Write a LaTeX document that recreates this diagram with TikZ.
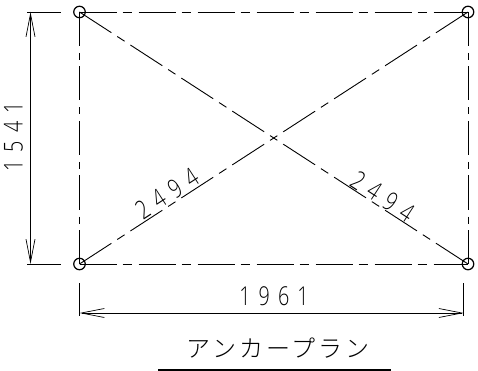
\documentclass[tikz,border=0pt]{standalone}
\usepackage{fontspec}
\usetikzlibrary{arrows.meta}
\newfontfamily\cadfont[FakeStretch=0.76,LetterSpace=31]{Open Sans Light}
\newfontfamily\cadjp[LetterSpace=12]{Noto Sans CJK JP Light}
\tikzset{
  anchorpt/.style={circle,draw=black,line width=1.2pt,minimum size=11.5pt,inner sep=0pt,fill=none},
  sideline/.style={line width=0.9pt,dash pattern=on 37pt off 6pt on 9pt off 7pt},
  endline/.style={line width=0.9pt,dash pattern=on 34pt off 7pt on 7pt off 6.5pt},
  diagline/.style={line width=0.9pt,dash pattern=on 38pt off 7pt on 8.7pt off 7pt},
  extline/.style={line width=0.8pt},
  dimline/.style={line width=0.8pt,{Straight Barb[length=23pt,width=9pt,line width=0.7pt]}-{Straight Barb[length=23pt,width=9pt,line width=0.7pt]}},
  dimtext/.style={font=\cadfont\fontsize{26}{26}\selectfont,text=black,inner sep=0pt},
  titletext/.style={font=\cadjp\fontsize{24}{24}\selectfont,text=black,inner sep=0pt},
}
\begin{document}
\begin{tikzpicture}[x=1pt,y=-1pt]
\useasboundingbox (0,0) rectangle (478,371);
\node[anchorpt] (TL) at (79.5,12) {};
\node[anchorpt] (TR) at (468,12) {};
\node[anchorpt] (BL) at (79.5,264) {};
\node[anchorpt] (BR) at (468,264) {};
\draw[sideline] (TL.center) -- (TR.center);
\draw[sideline] (BL.center) -- (BR.center);
\draw[endline] (TL.center) -- (BL.center);
\draw[endline] (TR.center) -- (BR.center);
\draw[diagline] (TL.center) -- (BR.center);
\draw[diagline] (BL.center) -- (TR.center);
% extension lines
\coordinate (e1a) at (27,12);   \coordinate (e1b) at (61,12);
\coordinate (e2a) at (27,264);  \coordinate (e2b) at (61,264);
\coordinate (e3a) at (79.5,283); \coordinate (e3b) at (79.5,316);
\coordinate (e4a) at (463.7,283); \coordinate (e4b) at (463.7,316);
\draw[extline] (e1a) -- (e1b);
\draw[extline] (e2a) -- (e2b);
\draw[extline] (e3a) -- (e3b);
\draw[extline] (e4a) -- (e4b);
% dimension lines
\coordinate (d1a) at (30.5,12); \coordinate (d1b) at (30.5,264);
\coordinate (d2a) at (79.5,313); \coordinate (d2b) at (463.7,313);
\draw[dimline] (d1a) -- (d1b);
\draw[dimline] (d2a) -- (d2b);
% labels
\node[dimtext,rotate=90] (h) at (13.5,137) {1541};
\node[dimtext] (w) at (274,296) {1961};
\node[dimtext,rotate=33] (dl) at (167,193.5) {2494};
\node[dimtext,rotate=-33] (dr) at (382.5,196.5) {2494};
\node[titletext] (t) at (278,348) {アンカープラン};
\coordinate (ua) at (158,370); \coordinate (ub) at (391,370);
\draw[line width=1.5pt] (ua) -- (ub);
\end{tikzpicture}
\end{document}
